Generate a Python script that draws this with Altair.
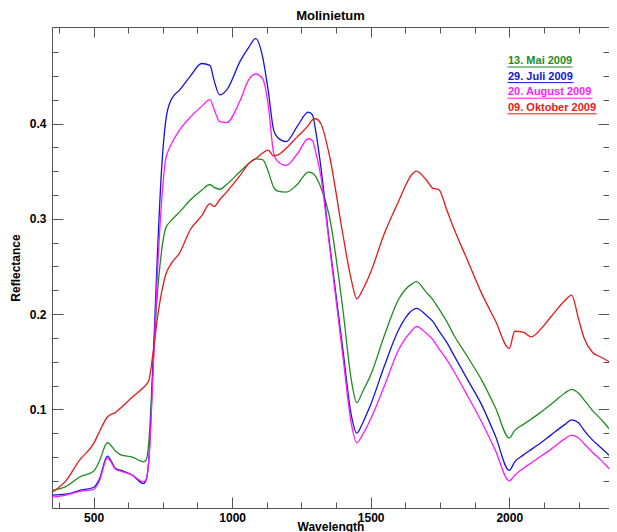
import altair as alt
import pandas as pd

# ---------------- data ----------------
wavelength = [350, 400, 450, 500, 520, 550, 580, 600, 640, 680, 690, 700, 715, 730, 745, 760,
              780, 810, 850, 890, 920, 935, 955, 980, 1030, 1060, 1085, 1110, 1130, 1150, 1165,
              1195, 1235, 1275, 1290, 1300, 1320, 1350, 1400, 1430, 1450, 1470, 1500, 1550, 1600,
              1650, 1665, 1700, 1725, 1745, 1775, 1800, 1850, 1900, 1950, 2000, 2020, 2050, 2080,
              2100, 2150, 2200, 2225, 2250, 2270, 2300, 2330, 2360, 2390]

mai = [0.015, 0.019, 0.029, 0.035, 0.045, 0.065, 0.056, 0.052, 0.050, 0.045, 0.047, 0.068, 0.150, 0.220, 0.265, 0.290,
       0.298, 0.307, 0.320, 0.330, 0.336, 0.333, 0.331, 0.336, 0.350, 0.358, 0.363, 0.362, 0.350, 0.333, 0.329,
       0.328, 0.336, 0.349, 0.348, 0.345, 0.333, 0.304, 0.204, 0.131, 0.107, 0.118, 0.136, 0.178, 0.215,
       0.232, 0.234, 0.223, 0.215, 0.206, 0.192, 0.178, 0.155, 0.131, 0.102, 0.070, 0.078, 0.084, 0.090,
       0.094, 0.105, 0.117, 0.121, 0.117, 0.110, 0.099, 0.090, 0.080, 0.070]

juli = [0.010, 0.011, 0.015, 0.018, 0.026, 0.051, 0.038, 0.036, 0.031, 0.022, 0.026, 0.050, 0.150, 0.260, 0.350, 0.402,
        0.425, 0.435, 0.450, 0.463, 0.461, 0.445, 0.430, 0.435, 0.466, 0.480, 0.489, 0.470, 0.435, 0.393, 0.385,
        0.381, 0.397, 0.412, 0.409, 0.395, 0.355, 0.278, 0.162, 0.094, 0.075, 0.085, 0.105, 0.146, 0.183,
        0.204, 0.206, 0.199, 0.192, 0.183, 0.170, 0.157, 0.131, 0.105, 0.072, 0.036, 0.045, 0.052, 0.058,
        0.062, 0.073, 0.084, 0.089, 0.086, 0.078, 0.068, 0.060, 0.052, 0.044]

august = [0.008, 0.010, 0.014, 0.016, 0.024, 0.049, 0.037, 0.035, 0.031, 0.024, 0.027, 0.048, 0.140, 0.240, 0.316, 0.362,
          0.378, 0.393, 0.407, 0.418, 0.425, 0.415, 0.402, 0.401, 0.425, 0.446, 0.452, 0.447, 0.420, 0.369, 0.360,
          0.356, 0.368, 0.384, 0.382, 0.372, 0.345, 0.275, 0.155, 0.085, 0.065, 0.073, 0.090, 0.125, 0.162,
          0.183, 0.187, 0.180, 0.173, 0.164, 0.152, 0.140, 0.114, 0.087, 0.057, 0.025, 0.031, 0.038, 0.044,
          0.048, 0.058, 0.069, 0.073, 0.070, 0.064, 0.055, 0.047, 0.038, 0.029]

oktober = [0.013, 0.025, 0.047, 0.064, 0.076, 0.092, 0.097, 0.102, 0.113, 0.123, 0.126, 0.131, 0.160, 0.195, 0.222, 0.241,
           0.253, 0.264, 0.289, 0.303, 0.316, 0.313, 0.320, 0.328, 0.346, 0.358, 0.363, 0.369, 0.372, 0.366, 0.367,
           0.374, 0.386, 0.398, 0.404, 0.405, 0.400, 0.368, 0.283, 0.236, 0.216, 0.225, 0.244, 0.285, 0.318,
           0.347, 0.350, 0.341, 0.332, 0.331, 0.309, 0.290, 0.256, 0.222, 0.193, 0.164, 0.182, 0.181, 0.176,
           0.180, 0.197, 0.214, 0.220, 0.195, 0.175, 0.160, 0.155, 0.150, 0.142]

series_names = ["13. Mai 2009", "29. Juli 2009", "20. August 2009", "09. Oktober 2009"]
series_colors = ["#1e8c1e", "#1414e0", "#ff1aff", "#e81818"]

x_major = [500, 1000, 1500, 2000]
x_minor = [375, 625, 750, 875, 1125, 1250, 1375, 1625, 1750, 1875, 2125, 2250]
y_major = [0.1, 0.2, 0.3, 0.4]
y_minor = [0.025, 0.05, 0.075, 0.125, 0.15, 0.175, 0.225, 0.25, 0.275,
           0.325, 0.35, 0.375, 0.425, 0.45, 0.475]

rows = []
for name, vals in zip(series_names, [mai, juli, august, oktober]):
    for w, v in zip(wavelength, vals):
        rows.append({"Wavelength": w, "Reflectance": v, "Datum": name})
df = pd.DataFrame(rows)

# ---------------- layout ----------------
W, H = 557, 481
FONT = "Liberation Sans"
AX = "#555555"

xs = alt.Scale(domain=[350, 2360], nice=False, zero=False)
ys = alt.Scale(domain=[-0.0035, 0.5013], nice=False, zero=False)


def ax(**kw):
    base = dict(grid=False, domainColor=AX, tickColor=AX, tickWidth=1, domainWidth=1,
                labelFont=FONT, labelFontWeight="bold", labelFontSize=12, labelColor="black",
                titleFont=FONT, titleFontWeight="bold", titleFontSize=12, titleColor="black")
    base.update(kw)
    return alt.Axis(**base)


x_labels = ax(orient="bottom", values=x_major, ticks=False, tickSize=0, labelPadding=4,
              domain=True, format="d", title="Wavelength", titleY=13)
y_labels = ax(orient="left", values=y_major, ticks=False, tickSize=0, labelPadding=6,
              domain=True, format=".1f", title="Reflectance", titleX=-37, titleY=H / 2,
              titleBaseline="middle", titleAlign="center")

legend = alt.Legend(
    orient="none", legendX=445, legendY=28.5, title=None, padding=0,
    labelFont=FONT, labelFontWeight="bold", labelFontSize=11,
    labelColor={"expr": "scale('color', datum.value)"},
    symbolType={"expr": "['M5,6H70','M5,6H71','M5,6H90','M5,6H94'][datum.index]"},
    symbolSize=4, symbolStrokeWidth=1, symbolOffset=0, labelOffset=0, rowPadding=0.6,
)

lines = alt.Chart(df).mark_line(strokeWidth=1.3, interpolate="monotone", clip=True).encode(
    x=alt.X("Wavelength:Q", scale=xs, axis=x_labels),
    y=alt.Y("Reflectance:Q", scale=ys, axis=y_labels),
    color=alt.Color("Datum:N", scale=alt.Scale(domain=series_names, range=series_colors),
                    legend=legend),
)


def tick_layer(xaxis, yaxis):
    return alt.Chart(df).mark_point(opacity=0, size=1, clip=True).encode(
        x=alt.X("Wavelength:Q", scale=xs, axis=xaxis),
        y=alt.Y("Reflectance:Q", scale=ys, axis=yaxis),
    )


t1 = tick_layer(ax(orient="bottom", offset=-H, values=x_major, labels=False, domain=True, tickSize=10, title=None),
                ax(orient="right", offset=-W, values=y_major, labels=False, domain=False, tickSize=11, title=None))
t2 = tick_layer(ax(orient="bottom", offset=-H, values=x_minor, labels=False, domain=False, tickSize=6, title=None),
                ax(orient="right", offset=-W, values=y_minor, labels=False, domain=False, tickSize=6, title=None))
t3 = tick_layer(ax(orient="top", offset=-H, values=x_major, labels=False, domain=False, tickSize=11, title=None),
                ax(orient="left", offset=-W, values=y_major, labels=False, domain=False, tickSize=11, title=None))
t4 = tick_layer(ax(orient="top", offset=-H, values=x_minor, labels=False, domain=False, tickSize=6, title=None),
                ax(orient="left", offset=-W, values=y_minor, labels=False, domain=False, tickSize=6, title=None))

chart = alt.layer(lines, t1, t2, t3, t4).resolve_axis(
    x="independent", y="independent"
).properties(
    width=W, height=H,
    title=alt.TitleParams("Molinietum", font=FONT, fontSize=13, fontWeight="bold",
                          anchor="middle", offset=-6, baseline="alphabetic", color="black"),
    autosize=alt.AutoSizeParams(type="none"),
    padding={"left": 44, "top": 19, "right": 0, "bottom": 24},
).configure_view(strokeWidth=0).configure(background="white")

chart.save("out.html", embed_options={"renderer": "svg", "actions": False})
